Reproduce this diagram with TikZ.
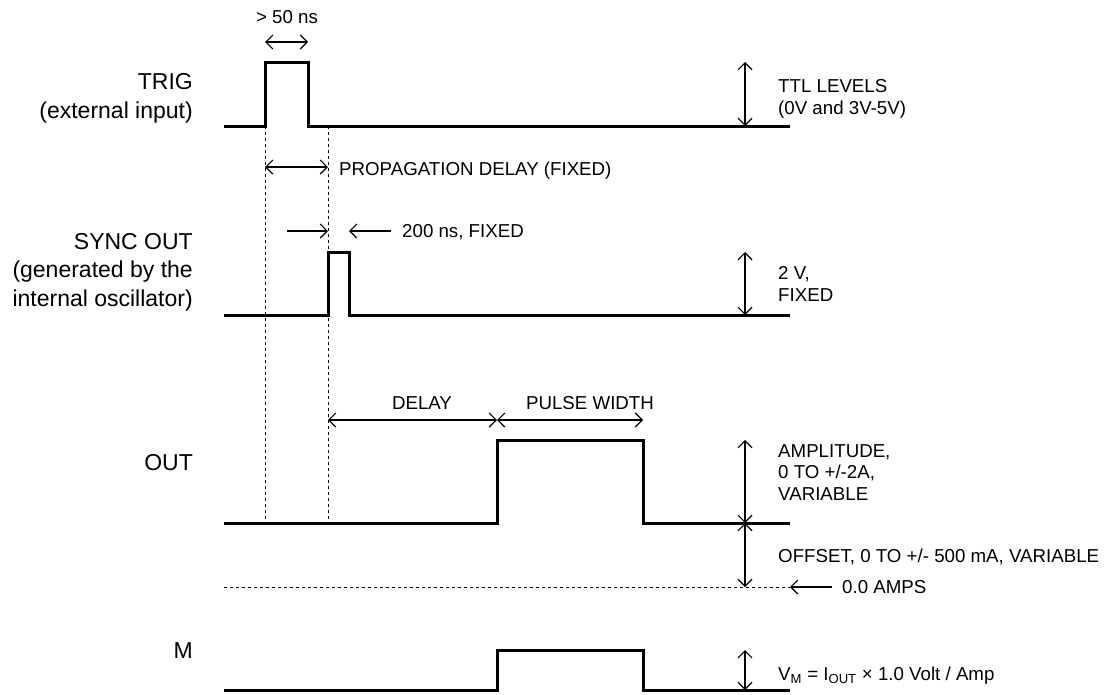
\documentclass[tikz,border=0pt]{standalone}
\usepackage{fontspec}
\setmainfont{Liberation Sans}
\usetikzlibrary{arrows.meta}

\begin{document}
\begin{tikzpicture}[x=1pt, y=-1pt,
    >={Straight Barb[length=7pt, width=14pt]},
    signal/.style={line width=3pt, line join=miter},
    dim/.style={line width=1.2pt, <->},
    guide/.style={line width=1pt, dash pattern=on 3pt off 3pt},
    signame/.style={anchor=base east, align=right, inner sep=0pt, font=\fontsize{23}{28.5}\selectfont},
    note/.style={anchor=base west, align=left, inner sep=0pt, font=\fontsize{18.7}{21.5}\selectfont},
    caption/.style={anchor=base, inner sep=0pt, font=\fontsize{18.7}{21.5}\selectfont}]
    \useasboundingbox (0,0) rectangle (1105,694);

    % Signal names (base = last line)
    \node [signame] (trig) at (193,118) {TRIG\\(external input)};
    \node [signame] (sync) at (193,306) {SYNC OUT\\(generated by the\\internal oscillator)};
    \node [signame] (out)  at (193,470) {OUT};
    \node [signame] (m)    at (193,658) {M};

    % Waveforms
    \coordinate (t0) at (224,126);  \coordinate (t1) at (265,126);
    \coordinate (t2) at (308,126);  \coordinate (t3) at (790,126);
    \coordinate (s0) at (224,315);  \coordinate (s1) at (328,315);
    \coordinate (s2) at (349,315);  \coordinate (s3) at (790,315);
    \coordinate (o0) at (224,523);  \coordinate (o1) at (497,523);
    \coordinate (o2) at (643,523);  \coordinate (o3) at (790,523);
    \coordinate (m0) at (224,690);  \coordinate (m1) at (497,690);
    \coordinate (m2) at (643,690);  \coordinate (m3) at (790,690);

    \draw [signal] (t0) -- (t1) -- ++(0,-64) -| (t2) -- (t3);
    \draw [signal] (s0) -- (s1) -- ++(0,-63) -| (s2) -- (s3);
    \draw [signal] (o0) -- (o1) -- ++(0,-83) -| (o2) -- (o3);
    \draw [signal] (m0) -- (m1) -- ++(0,-40) -| (m2) -- (m3);

    % Guide lines
    \coordinate (g1) at (265,523);
    \coordinate (g2) at (328,523);
    \coordinate (z0) at (224,587);
    \coordinate (z1) at (790,587);
    \draw [guide] (t1) -- (g1);
    \draw [guide] (328,126) -- (g2);
    \draw [guide] (z0) -- (z1);

    % Timing
    \coordinate (w0) at (265,42);  \coordinate (w1) at (308,42);
    \draw [dim] (w0) -- (w1);
    \node [caption] (wlabel) at (287,23) {> 50 ns};

    \coordinate (p0) at (265,167);  \coordinate (p1) at (328,167);
    \draw [dim] (p0) -- (p1);
    \node [note] (plabel) at (339,175) {PROPAGATION DELAY (FIXED)};

    \coordinate (f0) at (287,231);  \coordinate (f1) at (328,231);
    \coordinate (f2) at (349,231);  \coordinate (f3) at (391,231);
    \draw [line width=1.2pt, ->] (f0) -- (f1);
    \draw [line width=1.2pt, ->] (f3) -- (f2);
    \node [note] (flabel) at (402,237) {200 ns, FIXED};

    \coordinate (d0) at (328,420);  \coordinate (d1) at (497,420);
    \coordinate (d2) at (643,420);
    \draw [dim] (d0) -- (d1);
    \draw [dim] (d1) -- (d2);
    \node [caption] (dlabel)  at (422,409) {DELAY};
    \node [caption] (pwlabel) at (590,409) {PULSE WIDTH};

    % Levels (base = last line)
    \coordinate (a0) at (745,62);   \coordinate (a1) at (745,126);
    \draw [dim] (a0) -- (a1);
    \node [note] (ttl) at (778,114) {TTL LEVELS\\(0V and 3V-5V)};

    \coordinate (b0) at (745,252);  \coordinate (b1) at (745,315);
    \draw [dim] (b0) -- (b1);
    \node [note] (twov) at (778,301) {2 V,\\FIXED};

    \coordinate (c0) at (745,440);  \coordinate (c1) at (745,523);
    \coordinate (c2) at (745,587);
    \draw [dim] (c0) -- (c1);
    \draw [dim] (c1) -- (c2);
    \node [note] (amp) at (778,500) {AMPLITUDE,\\0 TO +/-2A,\\VARIABLE};
    \node [note] (offs) at (778,562) {OFFSET, 0 TO +/- 500 mA, VARIABLE};

    \coordinate (zt) at (832,587);
    \draw [line width=1.2pt, ->] (zt) -- (z1);
    \node [note] (zlabel) at (842,593) {0.0 AMPS};

    \coordinate (e0) at (745,650);  \coordinate (e1) at (745,690);
    \draw [dim] (e0) -- (e1);
    \node [note] (vm) at (778,680)
        {V\textsubscript{M} = I\textsubscript{OUT} × 1.0 Volt / Amp};
\end{tikzpicture}
\end{document}
